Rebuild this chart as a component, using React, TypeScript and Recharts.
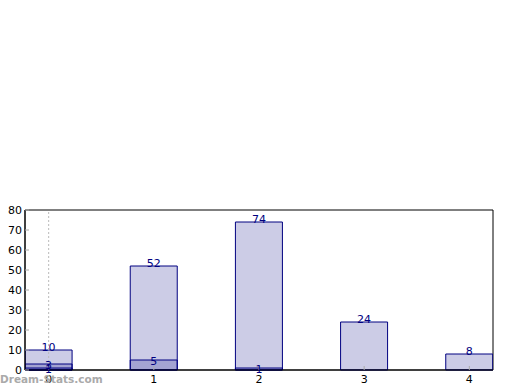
import { BarChart, Bar, XAxis, YAxis, LabelList, ReferenceLine, ReferenceArea } from "recharts";

// ── Data ──────────────────────────────────────────────────────────────────────

const categories = [0, 1, 2, 3, 4];
const totals = [10, 52, 74, 24, 8];
const middle = [3, 5, 1, null, null];
const inner = [1, null, null, null, null];
const yTicks = [0, 10, 20, 30, 40, 50, 60, 70, 80];

const data = categories.map((c, i) => ({
  x: c,
  total: totals[i],
  middle: middle[i],
  inner: inner[i],
}));

const X_DOMAIN: [number, number] = [-0.225, 4.225];
const Y_DOMAIN: [number, number] = [0, 80];
const NAVY = "#000080";
const FONT = "'DejaVu Sans', sans-serif";

// ── Ticks ─────────────────────────────────────────────────────────────────────

function LeftTick({ x, y, payload }: any) {
  return (
    <g>
      <line x1={x} x2={x + 4} y1={y} y2={y} stroke="#aaa" />
      <text x={x - 3} y={y} dy={4} textAnchor="end" fontSize={11} fontFamily={FONT} fill="#000">
        {payload.value}
      </text>
    </g>
  );
}

function RightTick({ x, y }: any) {
  return <line x1={x - 4} x2={x} y1={y} y2={y} stroke="#aaa" />;
}

function BottomTick({ x, y, payload }: any) {
  return (
    <g>
      <line x1={x} x2={x} y1={y - 4} y2={y} stroke="#aaa" />
      <text x={x} y={y} dy={13} textAnchor="middle" fontSize={11} fontFamily={FONT} fill="#000">
        {payload.value}
      </text>
    </g>
  );
}

function TopTick({ x, y }: any) {
  return <line x1={x} x2={x} y1={y} y2={y + 4} stroke="#aaa" />;
}

// labels of the total bars sit on top, the inner ones straddle the bar edge
function makeLabel(shift: number) {
  return function ValueLabel({ x, y, width, value }: any) {
    if (value == null) return null;
    return (
      <text x={x + width / 2} y={y + shift} textAnchor="middle" fontSize={11} fontFamily={FONT} fill={NAVY}>
        {value}
      </text>
    );
  };
}
const TopLabel = makeLabel(1);
const InnerLabel = makeLabel(5);

// ── Component ─────────────────────────────────────────────────────────────────

export default function App() {
  return (
    <div style={{ position: "fixed", left: 0, top: 0, width: 520, height: 390, background: "#fff" }}>
      <BarChart
        width={520}
        height={390}
        data={data}
        margin={{ top: 210, right: 27, bottom: 0, left: 0 }}
        barGap={-47}
      >
        <XAxis
          dataKey="x"
          type="number"
          domain={X_DOMAIN}
          ticks={categories}
          height={20}
          tickSize={0}
          tickMargin={0}
          tick={<BottomTick />}
          axisLine={{ stroke: "#000" }}
          allowDataOverflow
        />
        <XAxis
          xAxisId="top"
          orientation="top"
          dataKey="x"
          type="number"
          domain={X_DOMAIN}
          ticks={categories}
          height={0}
          tickSize={0}
          tickMargin={0}
          tick={<TopTick />}
          axisLine={{ stroke: "#000" }}
          allowDataOverflow
        />
        <YAxis
          type="number"
          domain={Y_DOMAIN}
          ticks={yTicks}
          width={25}
          tickSize={0}
          tickMargin={0}
          tick={<LeftTick />}
          axisLine={{ stroke: "#000" }}
          interval={0}
        />
        <YAxis
          yAxisId="r"
          orientation="right"
          type="number"
          domain={Y_DOMAIN}
          ticks={yTicks}
          width={0}
          tickSize={0}
          tickMargin={0}
          tick={<RightTick />}
          axisLine={{ stroke: "#000" }}
          interval={0}
        />
        <ReferenceLine x={0} stroke="#bbb" strokeDasharray="2 2" />
        <Bar dataKey="total" barSize={47} fill={NAVY} fillOpacity={0.2} stroke={NAVY} isAnimationActive={false}>
          <LabelList dataKey="total" content={<TopLabel />} />
        </Bar>
        <Bar dataKey="middle" barSize={47} fill={NAVY} fillOpacity={0.2} stroke={NAVY} isAnimationActive={false}>
          <LabelList dataKey="middle" content={<InnerLabel />} />
        </Bar>
        <Bar
          dataKey="inner"
          xAxisId="top"
          yAxisId="r"
          barSize={47}
          fill={NAVY}
          fillOpacity={0.2}
          stroke={NAVY}
          isAnimationActive={false}
        >
          <LabelList dataKey="inner" content={<InnerLabel />} />
        </Bar>
        <ReferenceArea
          x1={X_DOMAIN[0]}
          x2={X_DOMAIN[1]}
          y1={Y_DOMAIN[0]}
          y2={Y_DOMAIN[1]}
          fill="none"
          stroke="#000"
          strokeWidth={1}
        />
      </BarChart>
      <div
        style={{
          position: "absolute",
          left: 0,
          top: 373,
          fontFamily: FONT,
          fontSize: 10.5,
          fontWeight: "bold",
          color: "#aaa",
        }}
      >
        Dream-Stats.com
      </div>
    </div>
  );
}
